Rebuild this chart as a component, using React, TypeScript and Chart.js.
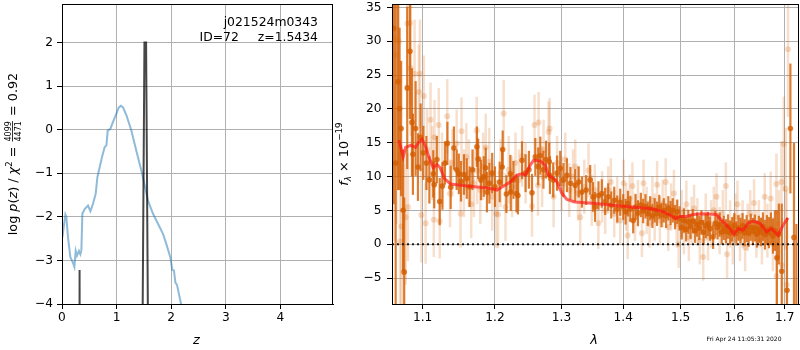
import React, { useEffect, useRef } from "react";
import { Chart, registerables } from "chart.js";
Chart.register(...registerables);

// ---------- left panel: p(z) ----------
const pzGridZ = [0.007, 0.062, 0.08, 0.11, 0.154, 0.2, 0.227, 0.251, 0.275, 0.311, 0.336, 0.355, 0.373, 0.416, 0.476, 0.52, 0.568, 0.617, 0.648, 0.69, 0.74, 0.782, 0.813, 0.837, 0.886, 0.934, 0.996, 1.04, 1.08, 1.117, 1.18, 1.27, 1.36, 1.454, 1.515, 1.575, 1.667, 1.758, 1.85, 1.91, 1.985, 2.02, 2.05, 2.077, 2.106, 2.143, 2.18, 2.25];
const pzGridLogP = [-2.47, -1.95, -2.01, -2.47, -2.93, -3.05, -3.15, -2.78, -2.89, -2.78, -2.86, -2.77, -1.93, -1.82, -1.74, -1.87, -1.7, -1.47, -1.09, -0.86, -0.59, -0.4, -0.36, -0.02, 0.02, 0.18, 0.37, 0.51, 0.55, 0.51, 0.33, -0.02, -0.48, -0.94, -1.28, -1.63, -1.93, -2.16, -2.39, -2.62, -2.93, -3.22, -3.23, -3.51, -3.56, -3.78, -4.0, -4.6];
const pzPeakZ = [0, 0.3, 0.322, 0.34, 1.286, 1.51, 1.54, 1.764, 4.96];
const pzPeakVal = [-40, -40, -3.22, -40, -40, 2.0, 2.0, -40, -40];
const leftXTicks = [0, 1, 2, 3, 4];
const leftYTicks = [-4, -3, -2, -1, 0, 1, 2];
const objName = "j021524m0343";
const objId = "ID=72";
const objZ = "z=1.5434";

// ---------- right panel: spectrum ----------
const modelWave = [1.0692, 1.0746, 1.0778, 1.0843, 1.0908, 1.0951, 1.0996, 1.104, 1.1084, 1.1142, 1.1196, 1.124, 1.1294, 1.1376, 1.16, 1.1892, 1.2031, 1.2126, 1.2223, 1.2321, 1.2396, 1.2445, 1.252, 1.257, 1.2672, 1.2748, 1.2799, 1.2876, 1.2928, 1.3006, 1.3084, 1.3214, 1.3535, 1.4003, 1.4516, 1.4691, 1.4809, 1.4911, 1.4988, 1.5109, 1.5229, 1.5413, 1.5662, 1.5787, 1.5914, 1.5991, 1.6073, 1.617, 1.6267, 1.6365, 1.6497, 1.663, 1.673, 1.6863, 1.6964, 1.7067];
const modelFlux = [15.4, 12.9, 14.3, 14.6, 14.3, 15.1, 15.5, 14.4, 12.9, 11.3, 11.8, 11.2, 9.7, 8.9, 8.6, 8.3, 8.0, 8.6, 9.2, 10.2, 10.4, 10.2, 11.7, 12.4, 12.3, 11.7, 10.2, 9.7, 9.2, 7.5, 6.6, 6.25, 6.0, 5.6, 5.2, 4.8, 4.3, 3.8, 4.1, 4.1, 4.4, 4.5, 4.4, 3.3, 2.3, 1.5, 2.3, 2.1, 3.1, 3.4, 3.1, 1.8, 2.3, 1.3, 2.8, 3.9];

const darkWave = [1.0625, 1.065, 1.068, 1.07, 1.072, 1.0745, 1.076, 1.0799, 1.0835, 1.086, 1.0873, 1.0908, 1.0939, 1.0974, 1.101, 1.105, 1.109, 1.1142, 1.1155, 1.119, 1.1229, 1.1266, 1.13, 1.1333, 1.1378, 1.1422, 1.146, 1.149, 1.152, 1.1561, 1.16, 1.164, 1.168, 1.1742, 1.176, 1.18, 1.184, 1.1867, 1.1885, 1.192, 1.196, 1.2, 1.2068, 1.2104, 1.2112, 1.2166, 1.2224, 1.223, 1.227, 1.2314, 1.2335, 1.2396, 1.245, 1.25, 1.2546, 1.2596, 1.264, 1.2672, 1.272, 1.276, 1.2809, 1.282, 1.287, 1.293, 1.2979, 1.303, 1.3084, 1.314, 1.3215, 1.327, 1.3322, 1.339, 1.3455, 1.35, 1.3535, 1.359, 1.3645, 1.37, 1.375, 1.38, 1.385, 1.39, 1.395, 1.4, 1.404, 1.408, 1.412, 1.4169, 1.421, 1.425, 1.43, 1.434, 1.438, 1.442, 1.446, 1.45, 1.454, 1.458, 1.462, 1.466, 1.47, 1.474, 1.478, 1.482, 1.486, 1.49, 1.494, 1.498, 1.502, 1.506, 1.51, 1.514, 1.518, 1.522, 1.526, 1.53, 1.534, 1.538, 1.542, 1.546, 1.55, 1.554, 1.5598, 1.564, 1.568, 1.572, 1.576, 1.58, 1.584, 1.588, 1.592, 1.596, 1.6, 1.604, 1.608, 1.612, 1.616, 1.62, 1.624, 1.628, 1.632, 1.636, 1.64, 1.644, 1.648, 1.652, 1.656, 1.66, 1.664, 1.668, 1.672, 1.676, 1.68, 1.684, 1.688, 1.6939, 1.7046, 1.7116, 1.719, 1.7239];
const darkFlux = [31.9, 12.0, 24.0, 20.0, 17.1, 5.0, -4.1, 23.1, 28.5, 18.0, 13.3, 17.1, 11.4, 15.8, 13.5, 12.0, 9.5, 10.4, 8.8, 12.5, 6.3, 8.6, 12.0, 14.9, 8.4, 14.2, 11.0, 10.4, 9.3, 10.3, 9.7, 8.5, 11.0, 14.4, 12.6, 9.5, 10.0, 11.3, 7.7, 9.0, 10.5, 8.5, 9.2, 11.4, 14.0, 7.4, 10.4, 7.7, 9.5, 7.5, 7.2, 12.4, 10.5, 11.0, 7.6, 12.9, 11.5, 13.1, 11.0, 12.5, 12.2, 10.2, 9.5, 10.5, 11.2, 9.5, 10.2, 9.0, 8.7, 9.2, 7.7, 8.0, 9.5, 7.0, 5.5, 7.2, 7.5, 6.3, 7.0, 5.8, 6.5, 5.2, 6.2, 5.5, 4.8, 6.0, 5.2, 3.5, 5.5, 4.6, 5.8, 4.9, 5.6, 4.5, 5.3, 4.2, 5.0, 4.5, 5.5, 4.3, 5.0, 4.2, 5.3, 4.6, 5.0, 4.0, 4.8, 3.8, 2.5, 3.5, 2.2, 3.3, 2.6, 3.4, 2.0, 2.9, 2.4, 3.2, 1.8, 2.7, 3.0, 2.3, 1.1, 3.1, 2.5, 2.9, 1.8, 2.4, 1.9, 2.6, 1.7, 2.2, 2.8, 1.6, 2.4, 2.0, 2.7, 1.7, 2.3, 1.6, 2.5, 1.9, 2.4, 1.5, 2.2, 1.8, 2.6, 1.4, 2.1, 1.7, 2.3, 1.2, 2.0, -2.0, 1.5, -4.0, -6.8, 17.1, 1.0, -12.0];
const darkErr = [26, 24, 16, 12, 10, 9, 11, 12, 10, 8, 6, 7, 5, 5, 4, 4, 3.5, 3.5, 3.5, 3.5, 3.5, 3.5, 3.2, 3.2, 3.2, 3.2, 3, 3, 3, 3, 3, 3, 3, 3, 3, 3, 3, 3, 3, 3, 3, 3, 3, 2.8, 2.8, 2.8, 2.8, 2.8, 2.8, 2.8, 2.8, 2.8, 2.8, 2.8, 2.8, 2.8, 2.8, 2.8, 2.8, 2.8, 2.8, 2.8, 2.6, 2.6, 2.6, 2.5, 2.5, 2.4, 2.4, 2.3, 2.3, 2.2, 2.2, 2.2, 2.2, 2.1, 2.1, 2, 2, 2, 2, 2, 2, 1.9, 1.9, 1.9, 1.9, 1.9, 1.9, 1.9, 1.8, 1.8, 1.8, 1.8, 1.8, 1.8, 1.8, 1.8, 1.8, 1.8, 1.8, 1.8, 1.8, 1.8, 1.8, 1.8, 1.8, 1.8, 1.8, 1.8, 1.8, 1.8, 1.8, 1.8, 1.8, 1.8, 1.8, 1.8, 1.8, 1.8, 1.8, 1.8, 1.8, 1.8, 1.8, 1.8, 1.8, 1.8, 1.8, 1.8, 1.8, 1.8, 1.8, 1.8, 1.9, 1.9, 1.9, 2, 2, 2, 2, 2, 2, 2, 2, 2.1, 2.1, 2.2, 2.2, 2.3, 2.4, 2.6, 3, 7, 4.5, 10, 10.7, 9.6, 14, 15];

const lightWave = [1.063, 1.066, 1.069, 1.0705, 1.0722, 1.075, 1.0778, 1.08, 1.0808, 1.0835, 1.0845, 1.0895, 1.0951, 1.0965, 1.0983, 1.1017, 1.104, 1.106, 1.1106, 1.113, 1.115, 1.1159, 1.1216, 1.1229, 1.126, 1.1331, 1.1368, 1.14, 1.146, 1.1514, 1.1527, 1.156, 1.1594, 1.163, 1.1662, 1.17, 1.1739, 1.1746, 1.179, 1.183, 1.1867, 1.1918, 1.196, 1.2016, 1.2044, 1.208, 1.2126, 1.2153, 1.22, 1.225, 1.23, 1.235, 1.24, 1.245, 1.2546, 1.2584, 1.2637, 1.2646, 1.27, 1.2722, 1.2799, 1.2815, 1.2876, 1.293, 1.3, 1.3058, 1.312, 1.318, 1.3215, 1.326, 1.3295, 1.336, 1.3428, 1.348, 1.353, 1.3588, 1.365, 1.37, 1.375, 1.3793, 1.385, 1.39, 1.395, 1.4007, 1.405, 1.4075, 1.411, 1.4156, 1.42, 1.425, 1.4318, 1.4346, 1.44, 1.445, 1.45, 1.454, 1.4582, 1.463, 1.468, 1.4733, 1.478, 1.483, 1.488, 1.493, 1.4965, 1.502, 1.506, 1.5104, 1.515, 1.52, 1.5245, 1.5306, 1.535, 1.5413, 1.546, 1.5503, 1.556, 1.561, 1.5662, 1.572, 1.578, 1.5838, 1.5862, 1.592, 1.597, 1.602, 1.6061, 1.611, 1.616, 1.621, 1.626, 1.631, 1.6384, 1.643, 1.648, 1.654, 1.6597, 1.665, 1.6716, 1.676, 1.6831, 1.6835, 1.688, 1.6932, 1.6945, 1.698, 1.702, 1.7067, 1.704];
const lightFlux = [30.5, 28.0, 30.0, 0.4, 2.6, -4.1, 4.0, 32.6, 5.5, 32.7, 26.0, 25.2, 22.5, 25.2, 4.3, 21.9, 3.1, 14.0, 18.4, 12.0, 3.6, 15.8, 17.6, 3.4, 11.0, 18.9, 7.5, 12.0, 14.9, 4.5, 16.7, 9.0, 12.9, 10.5, 5.9, 9.0, 16.8, 10.9, 8.0, 11.5, 14.3, 12.2, 7.0, 4.5, 4.4, 10.5, 19.3, 5.5, 11.0, 8.5, 12.0, 9.5, 13.0, 10.5, 5.6, 17.6, 8.7, 18.0, 10.0, 13.9, 16.6, 17.1, 7.0, 12.0, 9.0, 12.5, 8.0, 10.0, 11.5, 7.5, 4.0, 8.5, 10.9, 6.5, 8.0, 3.1, 7.0, 5.0, 8.0, 9.2, 4.5, 6.5, 3.5, 9.0, 5.5, 1.3, 6.8, 8.6, 4.0, 6.0, 1.6, 9.0, 5.0, 3.0, 6.5, 4.0, 8.8, 3.5, 6.0, 9.2, 2.5, 5.5, 7.5, 3.0, 0.0, 4.5, 2.0, 5.9, 1.0, 3.5, 5.3, 3.3, 0.5, -1.9, 4.0, 1.1, 3.0, 5.0, 7.0, 2.0, 4.5, 8.6, -1.5, 3.0, 0.5, 4.0, 5.9, 1.0, 3.0, -0.5, 2.5, 4.5, 6.1, 1.5, 3.0, 0.5, 7.0, 2.0, 6.75, 0.0, 8.9, -4.7, 3.0, 9.2, -3.1, 14.8, 8.2, 28.8, -6.0];
const lightErr = [30, 25, 20, 14, 12, 16, 10, 14, 8, 12, 10, 8, 7, 8, 7, 6, 6, 6, 5.5, 5.5, 5.5, 5.5, 5.5, 5.5, 5.5, 5.5, 5, 5, 5, 5, 5, 5, 5, 5, 5, 5, 5, 5, 5, 5, 5, 5, 5, 5, 5, 5, 5, 5, 5, 4.5, 4.5, 4.5, 4.5, 4.5, 4.5, 4.5, 4.5, 4.5, 4.5, 4.5, 4.5, 4.5, 4.5, 4, 4, 4, 4, 4, 4, 4, 4, 4, 4, 3.8, 3.8, 3.8, 3.8, 3.5, 3.5, 3.5, 3.5, 3.5, 3.5, 3.5, 3.5, 3.5, 3.5, 3.5, 3.5, 3.5, 3.5, 3.5, 3.5, 3.5, 3.5, 3.5, 3.5, 3.5, 3.5, 3.5, 3.5, 3.5, 3.5, 3.5, 3.5, 3.5, 3.5, 3.5, 3.5, 3.5, 3.5, 3.5, 3.5, 3.5, 3.5, 3.5, 3.5, 3.5, 3.5, 3.5, 3.5, 3.5, 3.5, 3.5, 3.5, 3.5, 3.5, 3.5, 3.5, 3.5, 3.5, 3.5, 3.5, 3.5, 3.5, 3.5, 3.5, 4, 4, 4, 4.5, 5, 5, 6, 7, 7, 9, 10, 14, 12];

const rightXTicks = [1.1, 1.2, 1.3, 1.4, 1.5, 1.6, 1.7];
const rightYTicks = [-5, 0, 5, 10, 15, 20, 25, 30, 35];
const stamp = "Fri Apr 24 11:05:31 2020";

const FONT = '"DejaVu Sans"';
const TICK_FONT = { family: FONT, size: 12.2 };
const GRID = { color: "#b0b0b0", lineWidth: 1, tickLength: 5, tickColor: "#000", tickWidth: 1 };
const minus = (v: number) => (v < 0 ? "\u2212" + Math.abs(v) : String(v));
const LEFT_W = 340; // width of the left canvas
const RIGHT_LEFT = 330; // page x where the right canvas starts (canvases overlap, both transparent)

type Run = { text?: string; font: string; dy?: number; num?: string; den?: string; numY?: number; denY?: number; barY?: number };

function drawRich(ctx: CanvasRenderingContext2D, runs: Run[], cx: number, cy: number, rotated: boolean) {
  ctx.save();
  ctx.translate(cx, cy);
  if (rotated) ctx.rotate(-Math.PI / 2);
  ctx.fillStyle = "#000";
  ctx.textBaseline = "alphabetic";
  ctx.textAlign = "left";
  const widths = runs.map((r) => {
    ctx.font = r.font;
    if (r.num) return Math.max(ctx.measureText(r.num).width, ctx.measureText(r.den || "").width) + 2;
    return ctx.measureText(r.text || "").width;
  });
  let x = -widths.reduce((a, b) => a + b, 0) / 2;
  runs.forEach((r, i) => {
    ctx.font = r.font;
    if (r.num) {
      const w = widths[i];
      ctx.textAlign = "center";
      ctx.fillText(r.num, x + w / 2, r.numY || 0);
      ctx.fillText(r.den || "", x + w / 2, r.denY || 0);
      ctx.fillRect(x + 1, r.barY || 0, w - 2, 0.8);
      ctx.textAlign = "left";
    } else {
      ctx.fillText(r.text || "", x, r.dy || 0);
    }
    x += widths[i];
  });
  ctx.restore();
}

const frame = {
  id: "frame",
  afterDatasetsDraw(chart: any) {
    const { ctx, chartArea: a } = chart;
    ctx.save();
    ctx.strokeStyle = "#000";
    ctx.lineWidth = 1;
    ctx.strokeRect(Math.round(a.left) + 0.5, Math.round(a.top) + 0.5, Math.round(a.right - a.left) - 1, Math.round(a.bottom - a.top));
    ctx.restore();
  },
};

const errorBars = {
  id: "errorBars",
  beforeDatasetDraw(chart: any, args: any) {
    const ds = chart.data.datasets[args.index];
    if (!ds.errors) return;
    const { ctx, chartArea: a, scales } = chart;
    ctx.save();
    ctx.beginPath();
    ctx.rect(a.left, a.top, a.right - a.left, a.bottom - a.top);
    ctx.clip();
    ctx.strokeStyle = ds.errColor;
    ctx.lineWidth = ds.errWidth;
    ds.data.forEach((p: any, i: number) => {
      const e = ds.errors[i];
      const px = scales.x.getPixelForValue(p.x);
      ctx.beginPath();
      ctx.moveTo(px, scales.y.getPixelForValue(p.y - e));
      ctx.lineTo(px, scales.y.getPixelForValue(p.y + e));
      ctx.stroke();
    });
    ctx.restore();
  },
};

const fixedTicks = (vals: number[]) => (s: any) => {
  s.ticks = vals.map((v) => ({ value: v }));
};

export default function App() {
  const leftRef = useRef<HTMLCanvasElement>(null);
  const rightRef = useRef<HTMLCanvasElement>(null);

  useEffect(() => {
    const leftLabels = {
      id: "leftLabels",
      afterDraw(chart: any) {
        const ctx = chart.ctx;
        ctx.save();
        ctx.fillStyle = "#000";
        ctx.font = `12.4px ${FONT}`;
        ctx.textAlign = "right";
        ctx.textBaseline = "alphabetic";
        ctx.fillText(objName, 318, 26);
        ctx.fillText(objZ, 318, 41);
        ctx.textAlign = "left";
        ctx.fillText(objId, 199.5, 41);
        ctx.textAlign = "center";
        ctx.font = `italic 13px ${FONT}`;
        ctx.fillText("z", 196.5, 344);
        ctx.restore();
        const F = `12.8px ${FONT}`;
        const I = `italic 12.8px ${FONT}`;
        const S = `8.6px ${FONT}`;
        drawRich(
          ctx,
          [
            { text: "log ", font: F },
            { text: "p", font: I },
            { text: "(", font: F },
            { text: "z", font: I },
            { text: ") / ", font: F },
            { text: "\u03c7", font: I },
            { text: "2", font: S, dy: -5 },
            { text: " = ", font: F },
            { num: "4099", den: "4471", font: `8px ${FONT}`, numY: -6, denY: 4.8, barY: -4.3 },
            { text: " = 0.92", font: F },
          ],
          16.5,
          154,
          true
        );
      },
    };

    const rightLabels = {
      id: "rightLabels",
      afterDraw(chart: any) {
        const ctx = chart.ctx;
        ctx.save();
        ctx.fillStyle = "#000";
        ctx.textAlign = "center";
        ctx.font = `italic 13px ${FONT}`;
        ctx.fillText("\u03bb", 594 - RIGHT_LEFT, 344);
        ctx.font = `6px ${FONT}`;
        ctx.textBaseline = "middle";
        ctx.fillText(stamp, 744 - RIGHT_LEFT, 339);
        ctx.restore();
        drawRich(
          ctx,
          [
            { text: "f", font: `italic 12.8px ${FONT}` },
            { text: "\u03bb", font: `italic 8.8px ${FONT}`, dy: 3 },
            { text: " \u00d7 10", font: `12.8px ${FONT}` },
            { text: "\u221219", font: `8.8px ${FONT}`, dy: -5.5 },
          ],
          347.5 - RIGHT_LEFT,
          154,
          true
        );
      },
    };

    const left = new Chart(leftRef.current as HTMLCanvasElement, {
      type: "scatter",
      data: {
        datasets: [
          {
            type: "line",
            data: pzPeakZ.map((z, i) => ({ x: z, y: pzPeakVal[i] })),
            borderColor: "rgba(0,0,0,0.72)",
            borderWidth: 2,
            pointRadius: 0,
            clip: 0,
            order: 0,
          } as any,
          {
            type: "line",
            data: pzGridZ.map((z, i) => ({ x: z, y: pzGridLogP[i] })),
            borderColor: "rgba(31,119,180,0.5)",
            borderWidth: 2,
            pointRadius: 0,
            clip: 0,
            order: 1,
          } as any,
        ],
      },
      options: {
        animation: false,
        responsive: false,
        events: [],
        layout: { padding: { top: 4, right: LEFT_W - 333, left: 0, bottom: 0 }, autoPadding: false } as any,
        plugins: { legend: { display: false }, tooltip: { enabled: false } },
        scales: {
          x: {
            type: "linear",
            min: 0,
            max: 4.963,
            afterBuildTicks: fixedTicks(leftXTicks),
            afterFit: (s: any) => {
              s.height = 46;
              s.paddingLeft = 0;
              s.paddingRight = 0;
            },
            ticks: { font: TICK_FONT, color: "#000", padding: 2, maxRotation: 0, autoSkip: false, callback: (v: any) => minus(Number(v)) },
            grid: GRID,
            border: { display: true, color: "#000", width: 1 },
          } as any,
          y: {
            type: "linear",
            min: -4,
            max: 2.884,
            afterBuildTicks: fixedTicks(leftYTicks),
            afterFit: (s: any) => {
              s.width = 62;
              s.paddingTop = 0;
              s.paddingBottom = 0;
            },
            ticks: { font: TICK_FONT, color: "#000", padding: 4, autoSkip: false, callback: (v: any) => minus(Number(v)) },
            grid: GRID,
            border: { display: true, color: "#000", width: 1 },
          } as any,
        },
      },
      plugins: [frame, leftLabels],
    });

    const xMin = 1.0603;
    const xMax = 1.7294;
    const right = new Chart(rightRef.current as HTMLCanvasElement, {
      type: "scatter",
      data: {
        datasets: [
          {
            type: "line",
            data: [
              { x: xMin, y: 0 },
              { x: xMax, y: 0 },
            ],
            borderColor: "rgba(0,0,0,0.85)",
            borderWidth: 2,
            borderDash: [2, 3],
            pointRadius: 0,
            clip: 0,
            order: -1,
          } as any,
          {
            type: "line",
            data: modelWave.map((w, i) => ({ x: w, y: modelFlux[i] })),
            borderColor: "rgba(255,20,20,0.65)",
            borderWidth: 3,
            pointRadius: 0,
            clip: 0,
            order: 0,
          } as any,
          {
            data: darkWave.map((w, i) => ({ x: w, y: darkFlux[i] })),
            errors: darkErr,
            errColor: "rgba(213,94,0,0.8)",
            errWidth: 2.2,
            backgroundColor: "rgba(213,94,0,0.8)",
            borderWidth: 0,
            pointRadius: 2.8,
            clip: 0,
            order: 1,
          } as any,
          {
            data: lightWave.map((w, i) => ({ x: w, y: lightFlux[i] })),
            errors: lightErr,
            errColor: "rgba(213,94,0,0.2)",
            errWidth: 2.5,
            backgroundColor: "rgba(213,94,0,0.22)",
            borderWidth: 0,
            pointRadius: 3,
            clip: 0,
            order: 2,
          } as any,
        ],
      },
      options: {
        animation: false,
        responsive: false,
        events: [],
        layout: { padding: { top: 4, right: 1, left: 0, bottom: 0 }, autoPadding: false } as any,
        plugins: { legend: { display: false }, tooltip: { enabled: false } },
        scales: {
          x: {
            type: "logarithmic",
            min: xMin,
            max: xMax,
            afterBuildTicks: fixedTicks(rightXTicks),
            afterFit: (s: any) => {
              s.height = 46;
              s.paddingLeft = 0;
              s.paddingRight = 0;
            },
            ticks: { font: TICK_FONT, color: "#000", padding: 2, maxRotation: 0, autoSkip: false, callback: (v: any) => Number(v).toFixed(1) },
            grid: GRID,
            border: { display: true, color: "#000", width: 1 },
          } as any,
          y: {
            type: "linear",
            min: -8.84,
            max: 35.5,
            afterBuildTicks: fixedTicks(rightYTicks),
            afterFit: (s: any) => {
              s.width = 392 - RIGHT_LEFT;
              s.paddingTop = 0;
              s.paddingBottom = 0;
            },
            ticks: { font: TICK_FONT, color: "#000", padding: 5.5, autoSkip: false, callback: (v: any) => minus(Number(v)) },
            grid: GRID,
            border: { display: true, color: "#000", width: 1 },
          } as any,
        },
      },
      plugins: [errorBars, frame, rightLabels],
    });

    return () => {
      left.destroy();
      right.destroy();
    };
  }, []);

  return (
    <div style={{ position: "fixed", left: 0, top: 0, width: 800, height: 350, background: "#fff" }}>
      <canvas ref={leftRef} width={LEFT_W} height={350} style={{ position: "absolute", left: 0, top: 0, width: LEFT_W, height: 350 }} />
      <canvas ref={rightRef} width={800 - RIGHT_LEFT} height={350} style={{ position: "absolute", left: RIGHT_LEFT, top: 0, width: 800 - RIGHT_LEFT, height: 350 }} />
    </div>
  );
}
